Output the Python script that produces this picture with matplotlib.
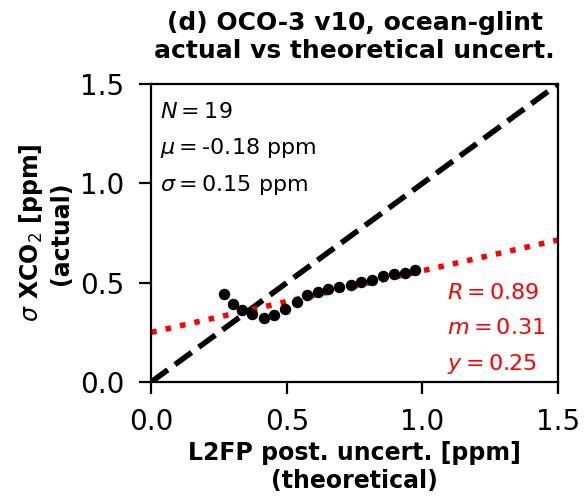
import matplotlib
matplotlib.use("Agg")
import matplotlib.pyplot as plt
import numpy as np

x_theo = [0.270, 0.300, 0.333, 0.370, 0.415, 0.452, 0.495, 0.538, 0.575, 0.616,
          0.653, 0.693, 0.736, 0.773, 0.816, 0.856, 0.896, 0.937, 0.974]
y_act = [0.443, 0.393, 0.362, 0.342, 0.321, 0.337, 0.366, 0.404, 0.438, 0.454,
         0.467, 0.480, 0.488, 0.505, 0.513, 0.533, 0.544, 0.550, 0.564]
fit_m = 0.31
fit_b = 0.25
stats_left = ["$N = 19$", "$\\mu = $-0.18 ppm", "$\\sigma = 0.15$ ppm"]
stats_right = ["$R = 0.89$", "$m = 0.31$", "$y = 0.25$"]
ticks = [0.0, 0.5, 1.0, 1.5]
tick_labels = ["0.0", "0.5", "1.0", "1.5"]

fig = plt.figure(figsize=(2.925, 2.49), dpi=200)
ax = fig.add_axes([0.2585, 0.233, 0.6953, 0.598])
lim = np.array([0.0, 1.5])
ax.plot(lim, lim, color="black", ls="--", lw=2)
ax.plot(lim, fit_b + fit_m * lim, color="red", ls=":", lw=2)
ax.scatter(x_theo, y_act, color="black", s=17, zorder=3, linewidths=0)
ax.set_xlim(0, 1.5)
ax.set_ylim(0, 1.5)
ax.set_xticks(ticks)
ax.set_yticks(ticks)
ax.set_xticklabels(tick_labels)
ax.set_yticklabels(tick_labels)
ax.tick_params(labelsize=10, length=4.2)
ax.tick_params(axis="x", pad=5)
ax.tick_params(axis="y", pad=5.5)
ax.set_xlabel("L2FP post. uncert. [ppm]\n(theoretical)", fontsize=8.5, fontweight="bold", labelpad=2)
ax.set_ylabel("$\\sigma$ XCO$_2$ [ppm]\n(actual)", fontsize=8.5, fontweight="bold", labelpad=2.5)
ax.set_title("(d) OCO-3 v10, ocean-glint\nactual vs theoretical uncert.", fontsize=9, fontweight="bold", pad=9.5)
for i, t in enumerate(stats_left):
    ax.text(0.022, 0.905 - i * 0.121, t, transform=ax.transAxes, fontsize=8, va="center")
for i, t in enumerate(stats_right):
    ax.text(0.728, 0.298 - i * 0.118, t, transform=ax.transAxes, fontsize=8, va="center", color="red")
fig.savefig("out.png", dpi=200)
